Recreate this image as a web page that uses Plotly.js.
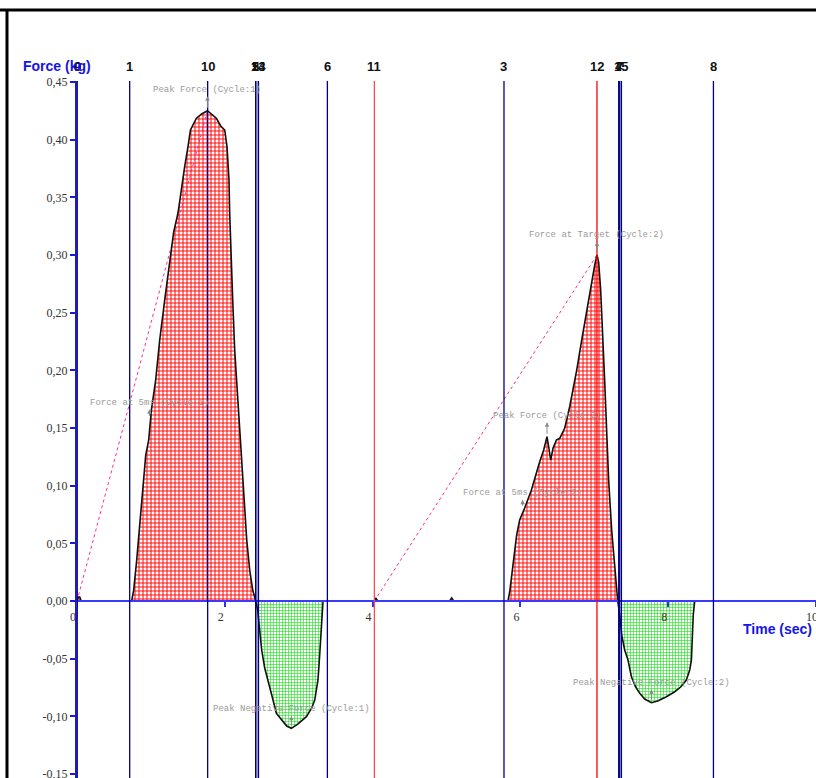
<!DOCTYPE html>
<html><head><meta charset="utf-8">
<script src="https://cdn.plot.ly/plotly-3.0.1.min.js"></script>
<style>html,body{margin:0;padding:0;background:#fff;} #chart{width:816px;height:778px;}</style>
</head><body><div id="chart"></div>
<script>
// ---- data ----
const timeSec = [0,0.016,0.037,0.057,0.74,0.767,0.808,0.848,0.889,0.930,0.970,1.007,1.065,1.119,1.187,1.254,1.308,1.367,1.413,1.457,1.502,1.535,1.616,1.687,1.765,1.823,1.886,1.945,1.999,2.030,2.057,2.066,2.080,2.107,2.134,2.175,2.215,2.256,2.297,2.337,2.378,2.419,
 2.445,2.472,2.499,2.540,2.585,2.635,2.698,2.770,2.838,2.901,2.987,3.104,3.176,3.217,3.261,3.284,3.305,3.329,
 3.988,4.024,4.042,4.069,5.043,5.070,5.097,5.832,
 5.855,5.882,5.909,5.949,5.990,6.058,6.149,6.207,6.261,6.315,6.360,6.383,6.410,6.441,6.487,6.532,6.599,6.667,6.712,6.762,6.830,6.897,6.965,7.006,7.036,7.059,7.086,7.113,7.140,7.167,7.194,7.235,7.276,7.317,
 7.344,7.371,7.411,7.456,7.502,7.560,7.615,7.682,7.773,7.858,7.976,8.088,8.169,8.246,8.291,8.314,8.325,8.339,8.359,9.072];
const forceKg = [0,0.0035,0.0035,0,0,0.0095,0.0356,0.0659,0.0963,0.1266,0.1396,0.1657,0.1917,0.2264,0.2611,0.2958,0.3200,0.3365,0.3593,0.3767,0.3940,0.4085,0.4187,0.4224,0.4252,0.4224,0.4187,0.4120,0.4085,0.3940,0.3651,0.3365,0.3044,0.2611,0.2177,0.1743,0.1310,0.0876,0.0529,0.0269,0.0095,0,
 -0.0078,-0.0252,-0.0425,-0.0581,-0.0685,-0.0815,-0.0974,-0.1032,-0.1084,-0.1104,-0.1067,-0.1003,-0.0928,-0.0859,-0.0685,-0.0468,-0.0208,0,
 0,0,0.0026,0,0,0.0026,0,0,
 0.0078,0.0226,0.0399,0.0572,0.0703,0.0807,0.0963,0.1093,0.1208,0.1310,0.1425,0.1336,0.1223,0.1324,0.1396,0.1411,0.1498,0.1685,0.1830,0.2003,0.2264,0.2524,0.2784,0.2914,0.3001,0.2940,0.2697,0.2350,0.1917,0.1483,0.1049,0.0616,0.0269,0,
 -0.0121,-0.0295,-0.0425,-0.0512,-0.0657,-0.0746,-0.0801,-0.0850,-0.0882,-0.0867,-0.0830,-0.0787,-0.0746,-0.0685,-0.0598,-0.0512,-0.0338,-0.0121,0,0];

const markerLabels = ['0','9','1','10','2','5','13','14','6','11','3','12','4','7','15','8'];
const markerTimes  = [0,0,0.713,1.768,2.418,2.418,2.455,2.455,3.388,4.024,5.778,7.036,7.330,7.344,7.367,8.612];

const linkStartTime = [0, 4.024];
const linkStartForce = [0, 0];
const linkEndTime = [1.765, 7.036];
const linkEndForce = [0.4252, 0.3001];

const annTexts = ['Peak Force (Cycle:1)','Force at 5ms (Cycle:1)','Peak Force (Cycle:2)','Force at 5ms (Cycle:2)','Force at Target (Cycle:2)','Peak Negative Force (Cycle:1)','Peak Negative Force (Cycle:2)'];
const annTimes  = [1.765, 0.98, 6.36, 6.03, 7.036, 2.901, 7.773];
const annForces = [0.4252, 0.158, 0.1425, 0.08, 0.3001, -0.1104, -0.0882];

const yTickVals = [-0.15,-0.10,-0.05,0,0.05,0.10,0.15,0.20,0.25,0.30,0.35,0.40,0.45];
const yTickText = ['-0,15','-0,10','-0,05','0,00','0,05','0,10','0,15','0,20','0,25','0,30','0,35','0,40','0,45'];
const xTickVals = [0,2,4,6,8,10];
const xTickText = ['0','2','4','6','8','10'];

// ---- styling / layout ----
const yRange = [-0.1535, 0.451];
const zeroFrac = (0 - yRange[0]) / (yRange[1] - yRange[0]);
const annOffsets = [-21,-16,-21,-15.5,-20,-19,-20];

const posY = forceKg.map(v => Math.max(v, 0));
const negY = forceKg.map(v => Math.min(v, 0));

const linkX = [], linkY = [];
for (let i = 0; i < linkStartTime.length; i++) {
  linkX.push(linkStartTime[i], linkEndTime[i], null);
  linkY.push(linkStartForce[i], linkEndForce[i], null);
}

const traces = [
  {x: timeSec, y: posY, mode: 'lines', line: {width: 0}, fill: 'tozeroy',
   fillcolor: 'rgba(255,0,0,0.5)',
   fillpattern: {shape: '+', fgcolor: '#ff1010', bgcolor: '#ffffff', size: 4, solidity: 0.45},
   hoverinfo: 'skip', showlegend: false},
  {x: timeSec, y: negY, mode: 'lines', line: {width: 0}, fill: 'tozeroy',
   fillcolor: 'rgba(0,220,0,0.5)',
   fillpattern: {shape: '+', fgcolor: '#10e010', bgcolor: '#ffffff', size: 3, solidity: 0.35},
   hoverinfo: 'skip', showlegend: false},
  {x: linkX, y: linkY, mode: 'lines', line: {color: '#ff2a90', width: 1, dash: 'dot'},
   hoverinfo: 'skip', showlegend: false},
  {x: timeSec, y: forceKg, mode: 'lines', line: {color: '#111111', width: 1.6},
   hoverinfo: 'skip', showlegend: false}
];

const shapes = [];
const annotations = [];
markerTimes.forEach((t, i) => {
  const lab = markerLabels[i];
  let col = '#000080';
  if (lab === '11') col = '#ff4a4a';
  if (lab === '12') col = '#ff0000';
  shapes.push({type: 'line', xref: 'x', yref: 'paper', x0: t, x1: t, y0: 0, y1: 1,
               line: {color: col, width: 1.3}, layer: 'above'});
  annotations.push({xref: 'x', yref: 'paper', x: t, y: 1, yshift: 15, xanchor: 'center', yanchor: 'middle',
                    text: '<b>' + lab + '</b>', showarrow: false,
                    font: {family: 'Liberation Sans, Arial', size: 13, color: '#111'}});
});

annTexts.forEach((txt, i) => {
  annotations.push({xref: 'x', yref: 'y', x: annTimes[i], y: annForces[i], text: txt,
    showarrow: true, ax: 0, ay: annOffsets[i], arrowside: 'start', startarrowhead: 2,
    startarrowsize: 0.9, arrowwidth: 1, arrowcolor: '#8a8a8a', standoff: 3,
    font: {family: 'Liberation Mono, monospace', size: 9, color: '#9a9a9a'}});
});

annotations.push({xref: 'paper', yref: 'paper', x: (56.5 - 77) / 739, y: 1, yshift: 15,
  xanchor: 'center', yanchor: 'middle', showarrow: false, text: '<b>Force (kg)</b>',
  font: {family: 'Liberation Sans, Arial', size: 14, color: '#1414e6'}});
annotations.push({xref: 'paper', yref: 'paper', x: (814 - 77) / 739, y: (778 - 629) / 697,
  xanchor: 'right', yanchor: 'middle', showarrow: false, text: '<b>Time (sec)</b>',
  font: {family: 'Liberation Sans, Arial', size: 14, color: '#1414e6'}});

// window frame (top and left black borders)
const frameTop = 1 + (81 - 10) / 697;
const frameLeft = (7 - 77) / 739;
shapes.push({type: 'line', xref: 'paper', yref: 'paper', x0: -0.2, x1: 1.1, y0: frameTop, y1: frameTop,
             line: {color: '#000', width: 3}, layer: 'above'});
shapes.push({type: 'line', xref: 'paper', yref: 'paper', x0: frameLeft, x1: frameLeft, y0: -0.05, y1: frameTop,
             line: {color: '#000', width: 3}, layer: 'above'});

const layout = {
  width: 816, height: 778,
  margin: {l: 77, r: 0, t: 81, b: 0, pad: 0},
  paper_bgcolor: '#ffffff', plot_bgcolor: '#ffffff',
  showlegend: false,
  xaxis: {range: [0, 10], anchor: 'free', position: zeroFrac, showline: true, linecolor: '#3a3aff', linewidth: 2,
          ticks: 'outside', ticklen: 5, tickwidth: 2, tickcolor: '#3030ee',
          tickvals: xTickVals, ticktext: xTickText, ticklabelshift: -4, ticklabeloverflow: 'allow',
          tickfont: {family: 'Liberation Serif, Times New Roman', size: 12, color: '#333'},
          showgrid: false, zeroline: false},
  yaxis: {range: yRange, showline: true, linecolor: '#1a1ad0', linewidth: 2,
          ticks: 'outside', ticklen: 5, tickwidth: 2, tickcolor: '#1a1ad0',
          tickvals: yTickVals, ticktext: yTickText, ticklabeloverflow: 'allow',
          tickfont: {family: 'Liberation Serif, Times New Roman', size: 12, color: '#333'},
          showgrid: false, zeroline: false},
  shapes: shapes,
  annotations: annotations
};

Plotly.newPlot('chart', traces, layout, {staticPlot: true, displayModeBar: false});
</script>
</body></html>
